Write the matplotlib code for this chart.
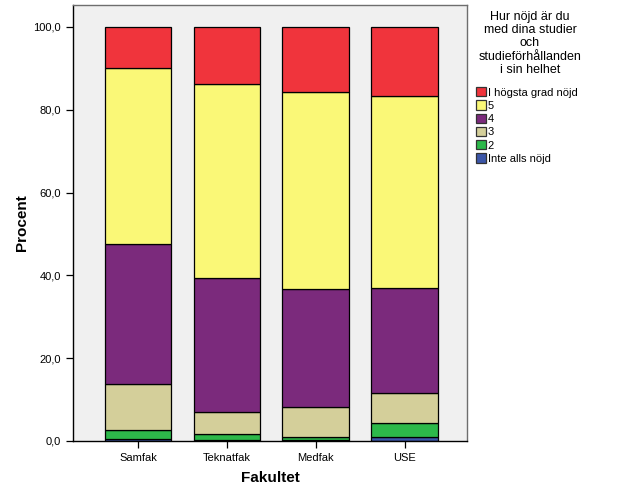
import numpy as np
import matplotlib
matplotlib.use("Agg")
import matplotlib.pyplot as plt
from matplotlib.patches import Patch
from matplotlib.ticker import FuncFormatter

plt.rcParams['font.family'] = ['Liberation Sans', 'DejaVu Sans']

# ==================== 数据 ====================
fakultet = ["Samfak", "Teknatfak", "Medfak", "USE"]
# andel (%) per svarskategori, nedifrån och upp
inte_alls = [0.6, 0.3, 0.2, 1.0]
svar_2 = [2.0, 1.3, 0.8, 3.3]
svar_3 = [11.2, 5.3, 7.3, 7.2]
svar_4 = [33.7, 32.4, 28.3, 25.4]
svar_5 = [42.5, 46.8, 47.7, 46.4]
hogsta = [10.0, 13.9, 15.7, 16.7]

serier = [inte_alls, svar_2, svar_3, svar_4, svar_5, hogsta]
etiketter = ["Inte alls nöjd", "2", "3", "4", "5", "I högsta grad nöjd"]
farger = ["#3C56A8", "#2DB84A", "#D4CF9A", "#7B2A7C", "#FAF877", "#F0343C"]

fig = plt.figure(figsize=(6.26, 5.01), dpi=100)
ax = fig.add_axes([73 / 626, 1 - 441 / 501, 394 / 626, 436 / 501])
ax.set_facecolor("#F0F0F0")

x = np.arange(len(fakultet))
botten = np.zeros(len(fakultet))
for vals, lab, col in zip(serier, etiketter, farger):
    ax.bar(x, vals, bottom=botten, width=0.75, color=col,
           edgecolor="black", linewidth=0.9, label=lab)
    botten += np.array(vals)

ax.set_xlim(-0.73, 3.70)
ax.set_ylim(0, 105.3)
ax.set_xticks(x)
ax.set_xticklabels(fakultet, fontsize=8)
ax.set_yticks(np.arange(0, 101, 20))
ax.yaxis.set_major_formatter(FuncFormatter(lambda v, p: f"{v:.1f}".replace(".", ",")))
ax.tick_params(axis="y", labelsize=8, length=5, width=0.9)
ax.tick_params(axis="x", length=5, width=0.9)

for s in ["left", "bottom"]:
    ax.spines[s].set_color("black")
    ax.spines[s].set_linewidth(1.0)
for s in ["top", "right"]:
    ax.spines[s].set_color("#6E6E6E")
    ax.spines[s].set_linewidth(1.0)

ax.set_xlabel("Fakultet", fontsize=11, fontweight="bold", labelpad=6)
ax.set_ylabel("Procent", fontsize=11, fontweight="bold", labelpad=3)

# legend
fig.text(530 / 626, 1 - 11 / 501,
         "Hur nöjd är du\nmed dina studier\noch\nstudieförhållanden\ni sin helhet",
         ha="center", va="top", multialignment="center", fontsize=9, linespacing=1.13)

handles = [Patch(facecolor=c, edgecolor="#333333", linewidth=0.9) for c in farger][::-1]
fig.legend(handles, etiketter[::-1], loc="upper left",
           bbox_to_anchor=(474 / 626, 1 - 85 / 501), frameon=False,
           fontsize=8, handlelength=0.9, handleheight=0.9, handletextpad=0.15,
           labelspacing=0.25, borderpad=0.2, borderaxespad=0)

fig.savefig("out.png", dpi=100)
